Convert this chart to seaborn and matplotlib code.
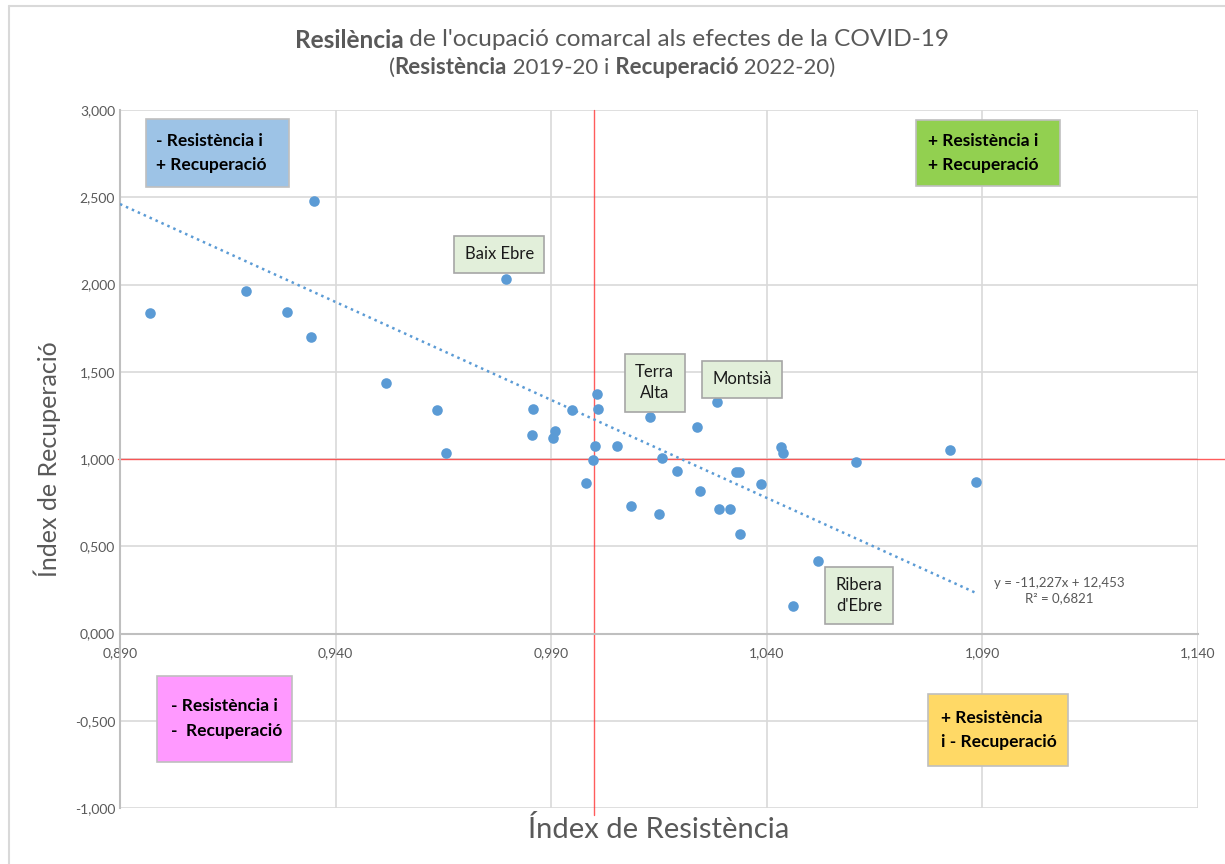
import numpy as np
import pandas as pd
import seaborn as sns
import matplotlib.pyplot as plt
from matplotlib.patches import Rectangle
from matplotlib.lines import Line2D
from matplotlib.ticker import FuncFormatter

# Índex de Resistència (x) i Índex de Recuperació (y) per comarca
resistencia = [0.8969, 0.9192, 0.9287, 0.9344, 0.9349, 0.9516, 0.9634, 0.9657,
               0.9796, 0.9858, 0.9856, 0.9909, 0.9905, 0.9949, 1.0006, 1.0009,
               1.0002, 0.9997, 0.9981, 1.0053, 1.0085, 1.0129, 1.0150, 1.0157,
               1.0192, 1.0238, 1.0245, 1.0284, 1.0289, 1.0314, 1.0328, 1.0335,
               1.0338, 1.0386, 1.0432, 1.0437, 1.0460, 1.0518, 1.0606, 1.0826,
               1.0884]
recuperacio = [1.834, 1.960, 1.845, 1.702, 2.476, 1.433, 1.278, 1.032,
               2.029, 1.284, 1.135, 1.158, 1.123, 1.278, 1.375, 1.284,
               1.077, 0.997, 0.860, 1.077, 0.728, 1.238, 0.682, 1.003,
               0.934, 1.186, 0.814, 1.324, 0.716, 0.716, 0.928, 0.928,
               0.573, 0.854, 1.066, 1.032, 0.160, 0.413, 0.980, 1.049,
               0.871]

# comarques etiquetades
etiquetes = ["Baix Ebre", "Terra\nAlta", "Montsià", "Ribera\nd'Ebre"]
etiq_x = [0.9780, 1.0140, 1.0342, 1.0614]
etiq_y = [2.172, 1.438, 1.456, 0.218]

# línia de tendència (de l'equació del gràfic)
pendent = -11.227
ordenada = 12.453
r2 = 0.6821

x_ticks = [0.890, 0.940, 0.990, 1.040, 1.090, 1.140]
y_ticks = [-1.0, -0.5, 0.0, 0.5, 1.0, 1.5, 2.0, 2.5, 3.0]

df = pd.DataFrame({'resistencia': resistencia, 'recuperacio': recuperacio})

sns.set_style('white')
plt.rcParams['font.family'] = ['Lato', 'DejaVu Sans']

W, H = 1225, 864
fig = plt.figure(figsize=(W / 100, H / 100), dpi=100)
ax = fig.add_axes([120 / W, 1 - 808 / H, (1198 - 120) / W, (808 - 110) / H])

ax.set_xlim(x_ticks[0], x_ticks[-1])
ax.set_ylim(y_ticks[0], y_ticks[-1])
ax.set_xticks(x_ticks)
ax.set_yticks(y_ticks)
ax.grid(True, color='#D9D9D9', linewidth=1.2)
ax.set_axisbelow(True)

fmt = FuncFormatter(lambda v, p: f"{v:.3f}".replace('.', ','))
ax.xaxis.set_major_formatter(fmt)
ax.yaxis.set_major_formatter(fmt)
ax.tick_params(axis='both', length=0, labelsize=10, labelcolor='#595959')
ax.tick_params(axis='x', pad=10)

for s in ['top', 'right']:
    ax.spines[s].set_visible(False)
ax.spines['bottom'].set_position(('data', 0))
ax.spines['bottom'].set_color('#BFBFBF')
ax.spines['bottom'].set_linewidth(1.5)
ax.spines['left'].set_color('#BFBFBF')
ax.spines['left'].set_linewidth(1.5)

# línies vermelles de referència
ax.plot([x_ticks[0] - 0.0005, 1.164], [1.0, 1.0], color='#FF3333', lw=1.0,
        alpha=0.8, clip_on=False, zorder=2)
ax.plot([1.0, 1.0], [-1.04, 3.0], color='#FF3333', lw=1.0, alpha=0.8,
        clip_on=False, zorder=2)

# tendència
xt = np.array([x_ticks[0], max(resistencia) + 0.0005])
ax.plot(xt, pendent * xt + ordenada, color='#5B9BD5', lw=1.8,
        linestyle=(0, (1, 1.6)), zorder=3)

sns.scatterplot(data=df, x='resistencia', y='recuperacio', ax=ax,
                color='#5B9BD5', s=58, linewidth=0, zorder=4)

ax.set_xlabel('Índex de Resistència', fontsize=21, color='#595959')
ax.set_ylabel('Índex de Recuperació', fontsize=18, color='#595959', labelpad=10)
ax.xaxis.set_label_coords(0.5, -0.012)

for txt, x, y in zip(etiquetes, etiq_x, etiq_y):
    ax.text(x, y, txt, ha='center', va='center', fontsize=12, color='#1a1a1a',
            linespacing=1.4, zorder=5,
            bbox=dict(boxstyle='square,pad=0.62', fc='#E2EFDA', ec='#A6A6A6', lw=1.2))

ax.text(1.1078, 0.246, f"y = {pendent:.3f}x + {ordenada:.3f}\nR² = {r2:.4f}".replace('.', ','),
        ha='center', va='center', fontsize=9.5, color='#595959', linespacing=1.3)


# requadres dels quadrants
def quadrant(x0, x1, y0, y1, color, text, tx):
    ax.add_patch(Rectangle((x0, y0), x1 - x0, y1 - y0, facecolor=color,
                           edgecolor='#BFBFBF', lw=1.2, zorder=5))
    ax.text(tx, (y0 + y1) / 2, text, ha='left', va='center', fontsize=12.5,
            fontweight='bold', color='black', linespacing=1.65, zorder=6)


quadrant(0.8960, 0.9291, 2.556, 2.951, '#9DC3E6', '- Resistència i\n+ Recuperació', 0.8984)
quadrant(1.0745, 1.1081, 2.567, 2.940, '#92D050', '+ Resistència i\n+ Recuperació', 1.0775)
quadrant(0.8986, 0.9298, -0.734, -0.241, '#FF99FF', '- Resistència i\n-  Recuperació', 0.9018)
quadrant(1.0775, 1.1099, -0.762, -0.344, '#FFD966', '+ Resistència\ni - Recuperació', 1.0805)


# títol amb parts en negreta
def titol(y_px, parts, size, cx=622):
    r = fig.canvas.get_renderer()
    ts = [fig.text(0, 1 - y_px / H, s, fontsize=size, fontweight=w,
                   color='#595959', ha='left', va='center') for s, w in parts]
    ws = [t.get_window_extent(r).width for t in ts]
    x = cx - sum(ws) / 2
    for t, w in zip(ts, ws):
        t.set_x(x / W)
        x += w


titol(40, [('Resilència', 'bold'),
           (" de l'ocupació comarcal als efectes de la COVID-19", 'normal')], 17.6)
titol(68, [('(', 'normal'), ('Resistència', 'bold'), (' 2019-20 i', 'normal'),
           (' Recuperació', 'bold'), (' 2022-20)', 'normal')], 16, cx=612)

# vora del gràfic
fig.add_artist(Line2D([9 / W, 9 / W], [0, 1 - 6 / H], color='#D9D9D9', lw=1.5))
fig.add_artist(Line2D([9 / W, 1], [1 - 6 / H, 1 - 6 / H], color='#D9D9D9', lw=1.5))

fig.savefig('out.png', dpi=100)
